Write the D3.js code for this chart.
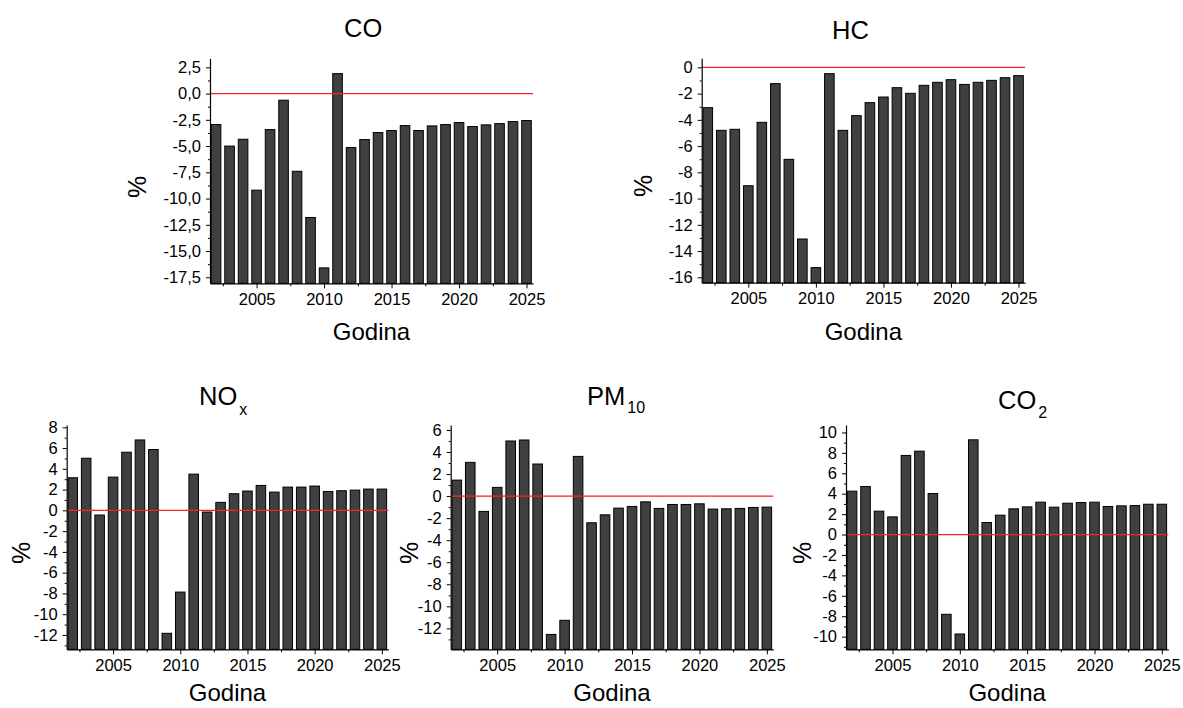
<!DOCTYPE html>
<html>
<head>
<meta charset="utf-8">
<script src="https://cdn.jsdelivr.net/npm/d3@7"></script>
<style>
html,body{margin:0;padding:0;background:#fff;}
svg{display:block;font-family:Arial,"Liberation Sans",sans-serif;}
</style>
</head>
<body>
<svg id="chart" width="1183" height="708"></svg>
<script>
// ---------- data ----------
const years = d3.range(2002, 2026);
const coValues   = [-2.95,-5.0,-4.35,-9.2,-3.43,-0.63,-7.4,-11.8,-16.6,1.9,-5.14,-4.38,-3.71,-3.52,-3.05,-3.52,-3.08,-2.95,-2.76,-3.14,-2.98,-2.86,-2.67,-2.57];
const hcValues   = [-3.07,-4.8,-4.72,-9.02,-4.19,-1.24,-7.01,-13.08,-15.26,-0.48,-4.8,-3.68,-2.69,-2.26,-1.55,-1.98,-1.37,-1.14,-0.94,-1.3,-1.14,-0.99,-0.79,-0.63];
const noxValues  = [3.14,5.02,-0.45,3.2,5.6,6.78,5.86,-11.84,-7.87,3.49,-0.16,0.77,1.6,1.86,2.4,1.76,2.24,2.24,2.34,1.82,1.89,1.95,2.05,2.05];
const pm10Values = [1.45,3.06,-1.39,0.79,5.0,5.09,2.91,-12.55,-11.27,3.6,-2.42,-1.7,-1.09,-0.94,-0.52,-1.12,-0.76,-0.76,-0.7,-1.18,-1.15,-1.12,-1.03,-1.0];
const co2Values  = [4.25,4.7,2.29,1.73,7.75,8.17,4.02,-7.81,-9.74,9.28,1.18,1.9,2.52,2.71,3.17,2.68,3.07,3.14,3.17,2.75,2.81,2.84,2.97,2.97];

const xTicks = [2005, 2010, 2015, 2020, 2025];
const xMinorTicks = [2002.5, 2007.5, 2012.5, 2017.5, 2022.5];
const coTicks   = [-17.5,-15,-12.5,-10,-7.5,-5,-2.5,0,2.5];
const hcTicks   = [-16,-14,-12,-10,-8,-6,-4,-2,0];
const noxTicks  = [-12,-10,-8,-6,-4,-2,0,2,4,6,8];
const pm10Ticks = [-12,-10,-8,-6,-4,-2,0,2,4,6];
const co2Ticks  = [-10,-8,-6,-4,-2,0,2,4,6,8,10];

const axisTitleX = "Godina";
const axisTitleY = "%";

// ---------- layout ----------
const panels = [
  {title:"CO", sub:"", values:coValues, ticks:coTicks, minorStep:1.25, fmt:d=>d3.format(".1f")(d).replace(".",",").replace("−","-"),
   x0:210, x1:533, y0:58.3, y1:283.3, dom:[-18.07,3.36], tx:344, ty:36.7, px:138, py:187, gy:57},
  {title:"HC", sub:"", values:hcValues, ticks:hcTicks, minorStep:1, fmt:d=>String(d),
   x0:701.7, x1:1025, y0:58.3, y1:282.7, dom:[-16.41,0.69], tx:832, ty:39, px:644, py:186, gy:57},
  {title:"NO", sub:"x", values:noxValues, ticks:noxTicks, minorStep:1, fmt:d=>String(d),
   x0:66.7, x1:388.3, y0:425, y1:649.3, dom:[-13.38,8.22], tx:199, ty:405, px:22, py:553, subDy:10, gy:52},
  {title:"PM", sub:"10", values:pm10Values, ticks:pm10Ticks, minorStep:1, fmt:d=>String(d),
   x0:450.7, x1:773.3, y0:425, y1:649.3, dom:[-13.9,6.45], tx:587, ty:405, px:410, py:553, subDy:8, gy:52},
  {title:"CO", sub:"2", values:co2Values, ticks:co2Ticks, minorStep:1, fmt:d=>String(d),
   x0:846, x1:1168.3, y0:425, y1:649.3, dom:[-11.24,10.73], tx:998, ty:409, px:803, py:553, subDy:9, gy:52}
];

const svg = d3.select("#chart");

panels.forEach(p => {
  const g = svg.append("g");
  const x = d3.scaleLinear().domain([2001.55, 2025.48]).range([p.x0, p.x1]);
  const y = d3.scaleLinear().domain(p.dom).range([p.y1, p.y0]);
  const step = x(2003) - x(2002);
  const bw = step * 0.71;

  // bars rise from the bottom of the axis (Origin style)
  g.selectAll("rect.bar").data(years.map((yr,i)=>({yr, v:p.values[i]})))
    .enter().append("rect")
    .attr("class","bar")
    .attr("x", d => x(d.yr) - bw/2)
    .attr("width", bw)
    .attr("y", d => y(d.v))
    .attr("height", d => y(p.dom[0]) - y(d.v))
    .attr("fill", "#404040")
    .attr("stroke", "#000")
    .attr("stroke-width", 1);

  // zero line
  g.append("line")
    .attr("x1", p.x0).attr("x2", p.x1)
    .attr("y1", y(0)).attr("y2", y(0))
    .attr("stroke", "#ff2020").attr("stroke-width", 1.3);

  // minor y ticks
  const minor = [];
  for (let v = Math.ceil(p.dom[0]/p.minorStep)*p.minorStep; v <= p.dom[1]; v += p.minorStep) {
    if (!p.ticks.some(t => Math.abs(t - v) < 1e-6)) minor.push(+v.toFixed(4));
  }
  const yMinor = g.append("g").attr("transform", `translate(${p.x0},0)`)
    .call(d3.axisLeft(y).tickValues(minor).tickSize(2).tickSizeOuter(0).tickFormat(""));
  yMinor.select(".domain").remove();

  const yAx = g.append("g").attr("transform", `translate(${p.x0},0)`)
    .call(d3.axisLeft(y).tickValues(p.ticks).tickSize(4).tickPadding(5).tickSizeOuter(0).tickFormat(p.fmt));
  yAx.selectAll("text").attr("font-size", "16.5px").attr("fill", "#000").attr("font-family", "Arial, 'Liberation Sans', sans-serif");

  const xMinor = g.append("g").attr("transform", `translate(0,${p.y1})`)
    .call(d3.axisBottom(x).tickValues(xMinorTicks).tickSize(3).tickSizeOuter(0).tickFormat(""));
  xMinor.select(".domain").remove();

  const xAx = g.append("g").attr("transform", `translate(0,${p.y1})`)
    .call(d3.axisBottom(x).tickValues(xTicks).tickSize(5).tickPadding(5).tickSizeOuter(0).tickFormat(d3.format("d")));
  xAx.selectAll("text").attr("font-size", "16.5px").attr("fill", "#000").attr("font-family", "Arial, 'Liberation Sans', sans-serif");

  g.selectAll(".domain").attr("stroke", "#000").attr("stroke-width", 1.2);
  g.selectAll(".tick line").attr("stroke", "#000");

  // title
  const t = g.append("text").attr("x", p.tx).attr("y", p.ty)
    .attr("font-size", "25.5px").attr("fill", "#000").text(p.title);
  if (p.sub) {
    t.append("tspan").attr("dy", p.subDy).attr("dx", 2).attr("font-size", "16px").text(p.sub);
  }

  // axis titles
  g.append("text")
    .attr("x", (p.x0 + p.x1) / 2).attr("y", p.y1 + p.gy)
    .attr("text-anchor", "middle").attr("font-size", "24px").attr("fill", "#000")
    .text(axisTitleX);
  g.append("text")
    .attr("transform", `translate(${p.px + 8},${p.py}) rotate(-90)`)
    .attr("text-anchor", "middle").attr("font-size", "25px").attr("fill", "#000")
    .text(axisTitleY);
});
</script>
</body>
</html>
